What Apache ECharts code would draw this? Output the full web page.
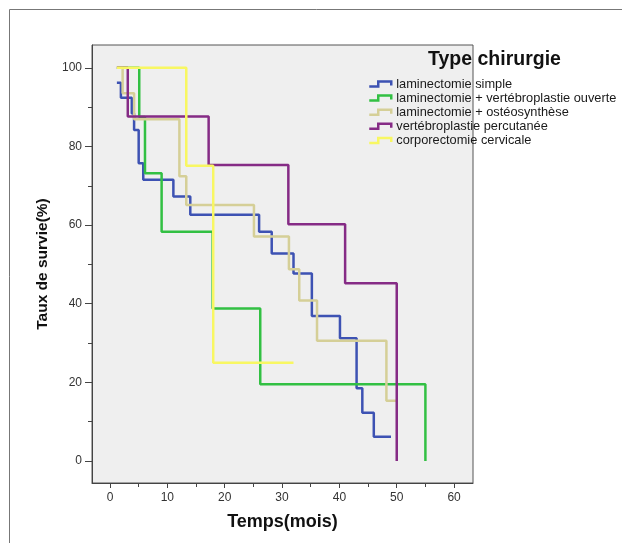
<!DOCTYPE html>
<html>
<head>
<meta charset="utf-8">
<script src="https://cdn.jsdelivr.net/npm/echarts@6/dist/echarts.min.js"></script>
<style>
html,body{margin:0;padding:0;background:#fff;}
#chart{width:622px;height:543px;}
</style>
</head>
<body>
<div id="chart"></div>
<script>
// Series names (legend order)
const seriesNames = [
  'laminectomie simple',
  'laminectomie + vertébroplastie ouverte',
  'laminectomie + ostéosynthèse',
  'vertébroplastie percutanée',
  'corporectomie cervicale'
];
// Kaplan-Meier step curves: time (mois) and survival (%)
const simpleT = [1.2, 1.9, 3.8, 4.2, 5.0, 5.8, 11.05, 14.0, 26.0, 28.2, 32.0, 35.2, 40.1, 43.0, 44.0, 46.0, 49.0];
const simpleS = [96.2, 92.4, 88.4, 84.2, 75.7, 71.5, 67.3, 62.6, 58.3, 52.8, 47.7, 36.9, 31.2, 18.5, 12.3, 6.2, 6.2];

const vertOuvT = [1.2, 5.1, 6.1, 9.0, 17.9, 26.2, 55.0];
const vertOuvS = [100, 87.5, 73.2, 58.3, 38.8, 19.5, 0];

const osteoT = [1.2, 2.2, 4.2, 12.1, 13.3, 25.1, 31.2, 33.0, 36.1, 48.2, 50.0];
const osteoS = [100, 93.5, 86.9, 72.4, 65.1, 57.1, 48.8, 40.8, 30.6, 15.3, 15.3];

const percT = [1.2, 3.1, 17.2, 31.1, 41.0, 50.0];
const percS = [100, 87.6, 75.3, 60.2, 45.2, 0];

const corpoT = [1.2, 13.3, 18.0, 32.0];
const corpoS = [100, 75.1, 25.0, 25.0];

// Tick values
const xMajorTicks = [0, 10, 20, 30, 40, 50, 60];
const xMinorTicks = [5, 15, 25, 35, 45, 55];
const yMajorTicks = [0, 20, 40, 60, 80, 100];
const yMinorTicks = [10, 30, 50, 70, 90];

const colors = ['#3d52b3', '#32c043', '#d5cf97', '#852b85', '#f8f762'];

const allT = [simpleT, vertOuvT, osteoT, percT, corpoT];
const allS = [simpleS, vertOuvS, osteoS, percS, corpoS];

const chart = echarts.init(document.getElementById('chart'), null, {renderer: 'canvas'});

const series = seriesNames.map((name, i) => ({
  name: name,
  type: 'line',
  step: 'end',
  showSymbol: false,
  symbol: 'none',
  animation: false,
  xAxisIndex: 0,
  yAxisIndex: 0,
  lineStyle: {color: colors[i], width: 2.5},
  itemStyle: {color: colors[i]},
  data: allT[i].map((t, k) => [t, allS[i][k]])
}));

const iconPath = 'path://M0,5 L9,5 L9,0 L22,0 L22,4';
const FONT = 'Liberation Sans, Arial, sans-serif';
const X_MIN = -3.14, X_MAX = 63.3, Y_MIN = -5.59, Y_MAX = 105.8;

const option = {
  animation: false,
  backgroundColor: '#ffffff',
  textStyle: {fontFamily: FONT},
  graphic: [{
    type: 'rect',
    shape: {x: 9.5, y: 9.5, width: 700, height: 700},
    style: {fill: 'none', stroke: '#777', lineWidth: 1},
    silent: true,
    z: -10
  }],
  title: {
    text: 'Type chirurgie',
    left: 428,
    top: 50,
    padding: 0,
    textStyle: {fontSize: 19.5, fontWeight: 'bold', color: '#111', fontFamily: FONT}
  },
  legend: {
    orient: 'vertical',
    left: 368,
    top: 77.5,
    padding: 0,
    itemWidth: 22,
    itemHeight: 5,
    itemGap: 1.1,
    selectedMode: false,
    textStyle: {fontSize: 12.8, color: '#1a1a1a', lineHeight: 11, fontFamily: FONT},
    data: seriesNames.map((n, i) => ({
      name: n,
      icon: iconPath,
      itemStyle: {color: 'transparent', borderColor: colors[i], borderWidth: 2.5}
    })),
    z: 10
  },
  grid: {
    left: 92, top: 45, width: 381, height: 438,
    show: true,
    backgroundColor: '#efefef',
    borderColor: '#555',
    borderWidth: 1,
    containLabel: false
  },
  xAxis: [{
    type: 'value',
    min: X_MIN,
    max: X_MAX,
    position: 'bottom',
    name: 'Temps(mois)',
    nameLocation: 'middle',
    nameGap: 30,
    nameTextStyle: {fontSize: 18, fontWeight: 'bold', color: '#111'},
    axisLine: {show: true, onZero: false, lineStyle: {color: '#444', width: 1}},
    axisTick: {show: true, length: 5, customValues: xMajorTicks, lineStyle: {color: '#444'}},
    axisLabel: {fontSize: 12, color: '#333', margin: 9, customValues: xMajorTicks},
    splitLine: {show: false}
  }, {
    type: 'value',
    min: X_MIN,
    max: X_MAX,
    position: 'bottom',
    axisLine: {show: false, onZero: false},
    axisTick: {show: true, length: 4, customValues: xMinorTicks, lineStyle: {color: '#444'}},
    axisLabel: {show: false},
    splitLine: {show: false}
  }],
  yAxis: [{
    type: 'value',
    min: Y_MIN,
    max: Y_MAX,
    position: 'left',
    name: 'Taux de survie(%)',
    nameLocation: 'middle',
    nameGap: 29,
    nameTextStyle: {fontSize: 15.5, fontWeight: 'bold', color: '#111'},
    axisLine: {show: true, onZero: false, lineStyle: {color: '#444', width: 1}},
    axisTick: {show: true, length: 7, customValues: yMajorTicks, lineStyle: {color: '#444'}},
    axisLabel: {fontSize: 12, color: '#333', margin: 10, customValues: yMajorTicks},
    splitLine: {show: false}
  }, {
    type: 'value',
    min: Y_MIN,
    max: Y_MAX,
    position: 'left',
    axisLine: {show: false, onZero: false},
    axisTick: {show: true, length: 4, customValues: yMinorTicks, lineStyle: {color: '#444'}},
    axisLabel: {show: false},
    splitLine: {show: false}
  }],
  series: series
};

chart.setOption(option);
</script>
</body>
</html>
